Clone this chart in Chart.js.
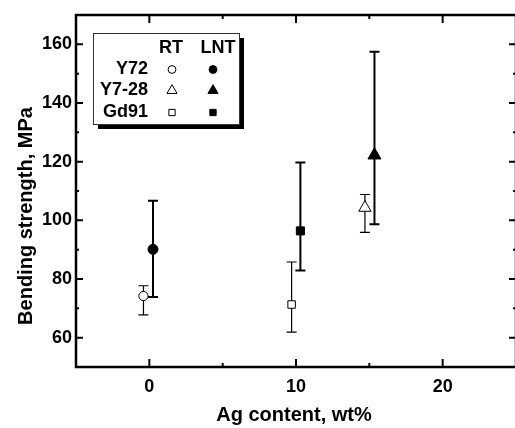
<!DOCTYPE html>
<html>
<head>
<meta charset="utf-8">
<script src="https://cdn.jsdelivr.net/npm/chart.js@4/dist/chart.umd.min.js"></script>
<style>
  body { margin: 0; background: #fff; overflow: hidden; }
  #wrap { width: 515px; height: 428px; overflow: hidden; }
</style>
</head>
<body>
<div id="wrap"><canvas id="myChart" width="530" height="428"></canvas></div>
<script>
// Données
const sampleNames = ["Y72", "Y7-28", "Gd91"];
const pointStyles = ["circle", "triangle", "rect"];

// RT (symboles vides)
const rtX = [-0.4, 14.7, 9.7];
const rtY = [74.2, 104.3, 71.3];
const rtLow = [67.8, 95.9, 61.9];
const rtHigh = [77.7, 108.8, 85.8];

// LNT (symboles pleins)
const lntX = [0.25, 15.35, 10.3];
const lntY = [90.1, 122.2, 96.4];
const lntLow = [73.9, 98.7, 82.9];
const lntHigh = [106.7, 157.5, 119.7];

// Axes
const xMajor = [0, 10, 20];
const xMinor = [5, 15];
const yMajor = [60, 80, 100, 120, 140, 160];
const yMinor = [70, 90, 110, 130, 150];

const fontFamily = "'Liberation Sans', Arial, sans-serif";
Chart.defaults.font.family = fontFamily;
Chart.defaults.color = "#000";

// taille des symboles selon la forme
function markerRadius(style) {
  if (style === "triangle") return 7.5;
  if (style === "rect") return 5.7;
  return 5;
}

// Construction des jeux de données
let datasets = [];
sampleNames.forEach((name, i) => {
  datasets.push({
    label: name + " RT",
    data: [{ x: rtX[i], y: rtY[i] }],
    pointStyle: pointStyles[i],
    pointRadius: markerRadius(pointStyles[i]) - 0.4,
    backgroundColor: "#fff",
    borderColor: "#000",
    borderWidth: 1,
    errLow: rtLow[i], errHigh: rtHigh[i], errWidth: 1.2
  });
  datasets.push({
    label: name + " LNT",
    data: [{ x: lntX[i], y: lntY[i] }],
    pointStyle: pointStyles[i],
    pointRadius: markerRadius(pointStyles[i]),
    backgroundColor: "#000",
    borderColor: "#000",
    borderWidth: 1,
    errLow: lntLow[i], errHigh: lntHigh[i], errWidth: 2
  });
});

// Barres d'erreur
const errorBars = {
  id: "errorBars",
  beforeDatasetsDraw(chart) {
    const ctx = chart.ctx;
    const xs = chart.scales.x, ys = chart.scales.y;
    ctx.save();
    ctx.strokeStyle = "#000";
    chart.data.datasets.forEach(ds => {
      const px = xs.getPixelForValue(ds.data[0].x);
      const top = ys.getPixelForValue(ds.errHigh);
      const bot = ys.getPixelForValue(ds.errLow);
      ctx.lineWidth = ds.errWidth;
      ctx.beginPath();
      ctx.moveTo(px, top); ctx.lineTo(px, bot);
      ctx.moveTo(px - 5, top); ctx.lineTo(px + 5, top);
      ctx.moveTo(px - 5, bot); ctx.lineTo(px + 5, bot);
      ctx.stroke();
    });
    ctx.restore();
  }
};

// Cadre, graduations, titres et légende
const frameAndLegend = {
  id: "frameAndLegend",
  afterDraw(chart) {
    const ctx = chart.ctx;
    const a = chart.chartArea;
    const xs = chart.scales.x, ys = chart.scales.y;
    ctx.save();
    ctx.strokeStyle = "#000";
    ctx.lineWidth = 2.5;
    ctx.strokeRect(a.left, a.top, a.right - a.left, a.bottom - a.top);

    ctx.lineWidth = 2;
    ctx.beginPath();
    xMajor.concat(xMinor).forEach(v => {
      const p = xs.getPixelForValue(v);
      const len = xMajor.includes(v) ? 8 : 4;
      ctx.moveTo(p, a.bottom); ctx.lineTo(p, a.bottom - len);
      ctx.moveTo(p, a.top); ctx.lineTo(p, a.top + len);
    });
    yMajor.concat(yMinor).forEach(v => {
      const p = ys.getPixelForValue(v);
      const len = yMajor.includes(v) ? 7 : 3;
      ctx.moveTo(a.left, p); ctx.lineTo(a.left + len, p);
      ctx.moveTo(a.right, p); ctx.lineTo(a.right - len, p);
    });
    ctx.stroke();

    // titres des axes
    ctx.fillStyle = "#000";
    ctx.font = "bold 20px " + fontFamily;
    ctx.textAlign = "center";
    ctx.textBaseline = "middle";
    ctx.fillText("Ag content, wt%", 294, 415);
    ctx.save();
    ctx.translate(26, 216);
    ctx.rotate(-Math.PI / 2);
    ctx.fillText("Bending strength, MPa", 0, 0);
    ctx.restore();

    // légende avec ombre
    const bx = 93, by = 33, bw = 146, bh = 91;
    ctx.fillStyle = "#000";
    ctx.fillRect(bx + 5, by + 5, bw, bh);
    ctx.fillStyle = "#fff";
    ctx.fillRect(bx, by, bw, bh);
    ctx.lineWidth = 1;
    ctx.strokeStyle = "#333";
    ctx.strokeRect(bx + 0.5, by + 0.5, bw, bh);

    ctx.fillStyle = "#000";
    ctx.font = "bold 18px " + fontFamily;
    ctx.textAlign = "center";
    ctx.fillText("RT", 171, 48);
    ctx.fillText("LNT", 218, 48);
    const rowY = [69.5, 90.5, 112.5];
    sampleNames.forEach((name, i) => {
      ctx.fillStyle = "#000";
      ctx.textAlign = "right";
      ctx.fillText(name, 148, rowY[i]);
      const r = markerRadius(pointStyles[i]) * 0.78;
      ctx.lineWidth = 1;
      ctx.strokeStyle = "#000";
      ctx.fillStyle = "#fff";
      Chart.helpers.drawPoint(ctx, { pointStyle: pointStyles[i], radius: r, rotation: 0, borderWidth: 1 }, 172, rowY[i]);
      ctx.fillStyle = "#000";
      Chart.helpers.drawPoint(ctx, { pointStyle: pointStyles[i], radius: r, rotation: 0, borderWidth: 1 }, 213, rowY[i]);
    });
    ctx.restore();
  }
};

const ctx = document.getElementById("myChart");
new Chart(ctx, {
  type: "scatter",
  data: { datasets: datasets },
  options: {
    responsive: false,
    animation: false,
    layout: { padding: { top: 15, right: 14, left: 0, bottom: 0 } },
    plugins: { legend: { display: false }, tooltip: { enabled: false } },
    scales: {
      x: {
        type: "linear",
        min: -5, max: 25,
        grid: { display: false, drawTicks: false },
        border: { display: false },
        afterBuildTicks: s => { s.ticks = xMajor.map(v => ({ value: v })); },
        afterFit: s => { s.height = 61; },
        ticks: { padding: 9, font: { size: 18, weight: "bold" }, color: "#000" }
      },
      y: {
        type: "linear",
        min: 50, max: 170,
        grid: { display: false, drawTicks: false },
        border: { display: false },
        afterBuildTicks: s => { s.ticks = yMajor.map(v => ({ value: v })); },
        afterFit: s => { s.width = 76; },
        ticks: { padding: 4, font: { size: 18, weight: "bold" }, color: "#000" }
      }
    }
  },
  plugins: [errorBars, frameAndLegend]
});
</script>
</body>
</html>
